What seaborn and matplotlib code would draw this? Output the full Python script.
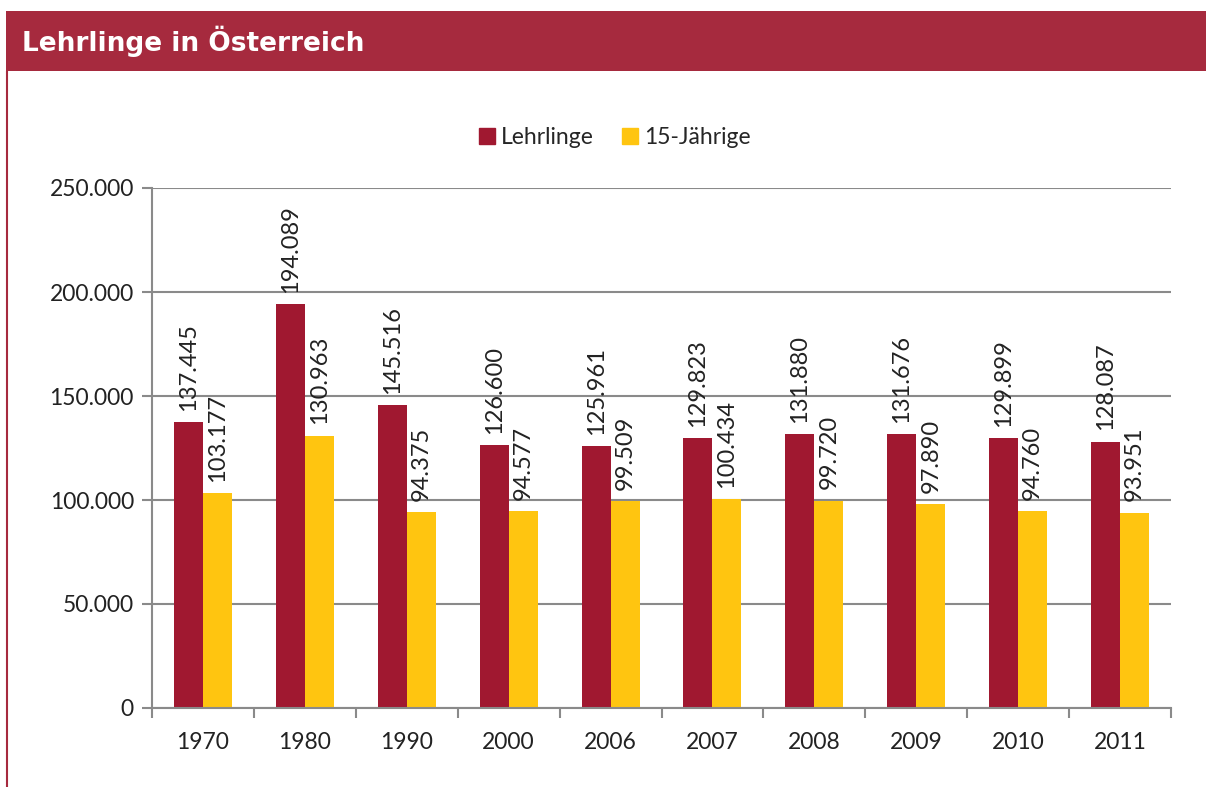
import matplotlib
matplotlib.use("Agg")
import matplotlib.pyplot as plt
import seaborn as sns
import pandas as pd
import numpy as np
from matplotlib.patches import Rectangle
from matplotlib.lines import Line2D
from matplotlib.ticker import FuncFormatter, FixedLocator

years = ["1970", "1980", "1990", "2000", "2006", "2007", "2008", "2009", "2010", "2011"]
lehrlinge = [137445, 194089, 145516, 126600, 125961, 129823, 131880, 131676, 129899, 128087]
jaehrige = [103177, 130963, 94375, 94577, 99509, 100434, 99720, 97890, 94760, 93951]
series = ["Lehrlinge", "15-Jährige"]
colors = ["#A01830", "#FFC510"]

df = pd.DataFrame({
    "Jahr": years * 2,
    "Wert": lehrlinge + jaehrige,
    "Serie": [series[0]] * len(years) + [series[1]] * len(years),
})

sns.set_theme(style="white")
plt.rcParams["font.family"] = ["Lato", "DejaVu Sans"]

fig = plt.figure(figsize=(12.06, 7.87), dpi=100)
ax = fig.add_axes([152 / 1206, 1 - 708 / 787, (1171 - 152) / 1206, (708 - 188) / 787])

sns.barplot(data=df, x="Jahr", y="Wert", hue="Serie", palette=colors,
            width=0.57, saturation=1, linewidth=0, ax=ax, legend=False)

ax.set_ylim(0, 250000)
ax.set_xlim(-0.5, len(years) - 0.5)
ax.set_xlabel("")
ax.set_ylabel("")
ax.yaxis.set_major_locator(FixedLocator(np.arange(0, 250001, 50000)))
ax.yaxis.set_major_formatter(FuncFormatter(lambda v, p: f"{int(v):,}".replace(",", ".")))
ax.grid(axis="y", color="#8a8a8a", linewidth=1.5)
ax.set_axisbelow(True)
for s in ["top", "right"]:
    ax.spines[s].set_visible(False)
for s in ["left", "bottom"]:
    ax.spines[s].set_color("#8a8a8a")
    ax.spines[s].set_linewidth(1.5)

ax.tick_params(axis="y", which="major", length=7, width=1.5, color="#8a8a8a",
               labelsize=16.5, labelcolor="#222222", pad=6, left=True)
ax.tick_params(axis="x", which="major", length=0, labelsize=16.5, labelcolor="#222222", pad=17)
ax.xaxis.set_minor_locator(FixedLocator(np.arange(-0.5, len(years), 1.0)))
ax.tick_params(axis="x", which="minor", length=7, width=1.5, color="#8a8a8a", bottom=True)

for cont in ax.containers:
    for bar in cont:
        h = bar.get_height()
        ax.annotate(f"{int(h):,}".replace(",", "."),
                    (bar.get_x() + bar.get_width() / 2, h),
                    xytext=(0, 8), textcoords="offset points",
                    ha="center", va="bottom", rotation=90,
                    fontsize=17, color="#222222")

handles = [Line2D([0], [0], marker="s", linestyle="", markersize=11,
                  markerfacecolor=c, markeredgecolor=c) for c in colors]
fig.legend(handles, series, loc="center", bbox_to_anchor=(614 / 1206, 1 - 138 / 787),
           ncol=2, frameon=False, fontsize=16.5, handletextpad=0.2, columnspacing=1.2,
           handlelength=0.8)

# Title bar
fig.patches.append(Rectangle((6 / 1206, 1 - 71 / 787), 1 - 6 / 1206, 60 / 787,
                             transform=fig.transFigure, facecolor="#A62A3E",
                             edgecolor="none", zorder=0))
fig.lines.append(Line2D([6.5 / 1206, 6.5 / 1206], [0, 1 - 71 / 787],
                        transform=fig.transFigure, color="#A62A3E", linewidth=1.5))
fig.text(22 / 1206, 1 - 41 / 787, "Lehrlinge in Österreich", color="white",
         fontsize=19, fontweight="bold", family="DejaVu Sans", va="center", ha="left")

fig.savefig("out.png", dpi=100)
